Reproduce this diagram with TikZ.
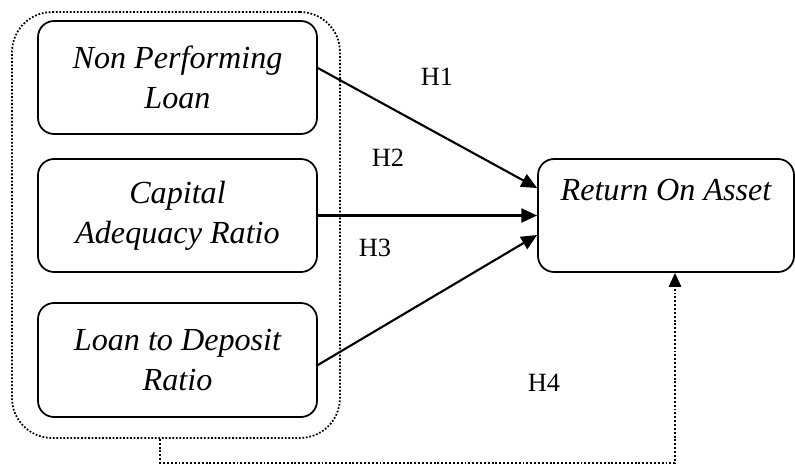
\documentclass[tikz,border=0pt]{standalone}
\usepackage{fontspec}
\setmainfont{Liberation Serif}
\usetikzlibrary{arrows.meta}
\begin{document}
\begin{tikzpicture}[x=0.02cm,y=-0.02cm,
  box/.style={draw,line width=1pt,rounded corners=0.32cm,minimum width=5.58cm,minimum height=2.26cm,align=center,font=\fontsize{18.3}{22.8}\selectfont\itshape},
  grp/.style={draw,line width=1pt,dash pattern=on 1pt off 1pt,rounded corners=0.8cm,minimum width=6.56cm,minimum height=8.52cm},
  hyp/.style={font=\fontsize{15}{17}\selectfont},
  arr/.style={line width=1.2pt,-{Triangle[length=9pt,width=8pt]}},
  dotarr/.style={line width=1.2pt,dash pattern=on 1.1pt off 1.1pt,-{Triangle[length=8pt,width=7pt]}}]
\useasboundingbox (0,0) rectangle (795,464);
\node[grp] (g1) at (176,225) {};
\node[box] (v1) at (177.5,77.5) {Non Performing\\Loan};
\node[box] (v2) at (177.5,215.5) {Capital\\Adequacy Ratio};
\node[box,minimum height=2.28cm] (v3) at (177.5,360) {Loan to Deposit\\Ratio};
\node[box,minimum width=5.12cm] (v4) at (666,215.5) {Return On Asset\\ \strut};
\node[hyp] (h1) at (437,77) {H1};
\node[hyp] (h2) at (388,158) {H2};
\node[hyp] (h3) at (375,248) {H3};
\node[hyp] (h4) at (544,383) {H4};
\draw[arr] ([yshift=0.19cm]v1.east) -- ([yshift=0.55cm]v4.west);
\draw[arr] (v2.east) -- (v4.west);
\draw[arr] ([yshift=-0.1cm]v3.east) -- ([yshift=-0.39cm]v4.west);
\draw[dotarr] ([xshift=-0.32cm]g1.south) -- ++(0,24) -| ([xshift=0.18cm]v4.south);
\end{tikzpicture}
\end{document}
